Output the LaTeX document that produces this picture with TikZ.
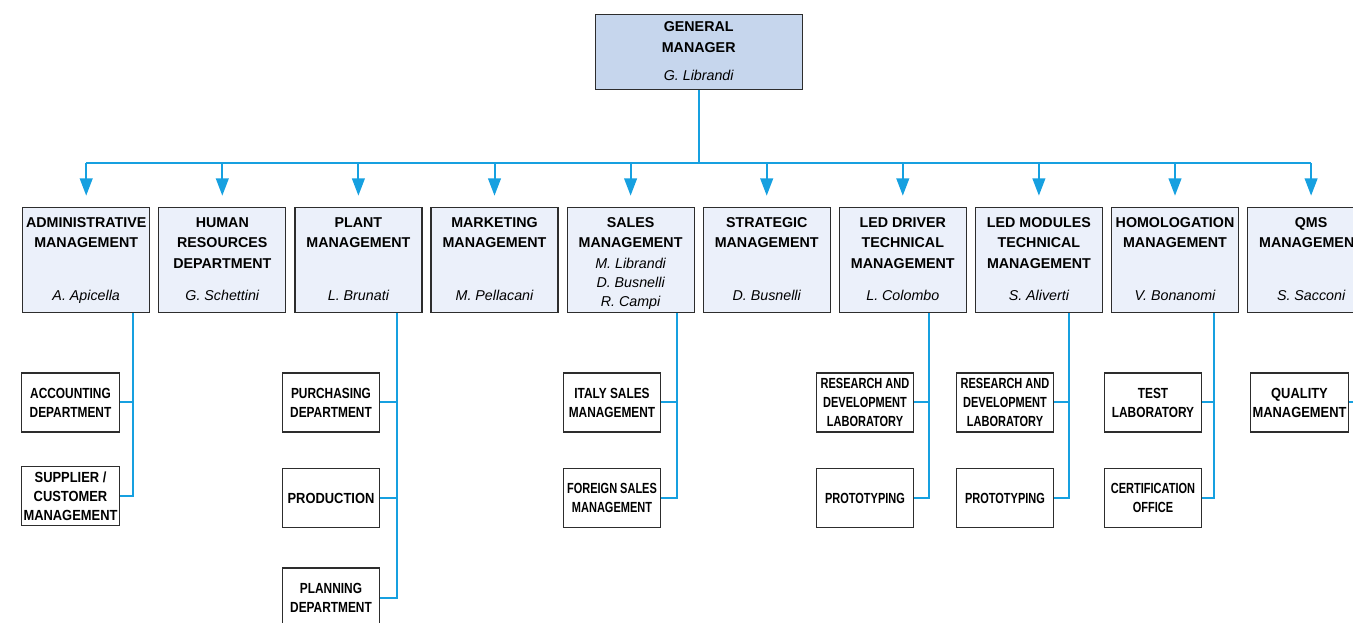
\documentclass[tikz,border=0pt]{standalone}
\usepackage{fontspec}
\setmainfont{Liberation Sans}
\newfontfamily\nfa[FakeStretch=0.88]{Liberation Sans}
\newfontfamily\nfb[FakeStretch=0.81]{Liberation Sans}
\newfontfamily\nfc[FakeStretch=0.75]{Liberation Sans}
\usetikzlibrary{arrows.meta}
\definecolor{conncol}{RGB}{22,160,224}
\definecolor{topfill}{RGB}{235,240,250}
\definecolor{gmfill}{RGB}{198,214,237}
\definecolor{boxline}{RGB}{45,45,45}
\tikzset{
  box/.style={draw=boxline, line width=0.9pt, inner sep=0pt},
  topbox/.style={box, fill=topfill, minimum width=95.25pt, minimum height=78.75pt},
  gmbox/.style={box, fill=gmfill, minimum width=155.25pt, minimum height=56.25pt},
  subbox/.style={box, fill=white, minimum width=73.1pt, minimum height=44.25pt, align=center, font=#1\fontsize{11}{14.25}\selectfont\bfseries},
  ttl/.style={anchor=north, inner sep=0pt, align=center, font=\fontsize{10.7}{15.3}\selectfont\bfseries},
  nm/.style={inner sep=0pt, align=center, font=\fontsize{10.7}{14.25}\selectfont\itshape},
  conn/.style={draw=conncol, line width=1.5pt},
  arr/.style={conn, -{Triangle[length=13pt,width=9.5pt]}, shorten >=8.25pt}
}
\begin{document}
\begin{tikzpicture}[x=0.75pt,y=-0.75pt]
\useasboundingbox (0,0) rectangle (1353,623);
\clip (0,0) rectangle (1353,623);

% General manager
\node[gmbox] (gm) at (698.7,51.8) {};
\node[ttl] (gmT) at (698.7,21.7) {GENERAL\\MANAGER};
\node[nm, anchor=base] (gmN) at (698.7,81) {G. Librandi};

% top row
\node[topbox] (adm) at (86.2,259.8) {};
\node[topbox] (hr) at (222.3,259.8) {};
\node[topbox] (plant) at (358.4,259.8) {};
\node[topbox] (mkt) at (494.5,259.8) {};
\node[topbox] (sales) at (630.6,259.8) {};
\node[topbox] (strat) at (766.7,259.8) {};
\node[topbox] (ledd) at (902.8,259.8) {};
\node[topbox] (ledm) at (1038.9,259.8) {};
\node[topbox] (hom) at (1175,259.8) {};
\node[topbox] (qms) at (1311.1,259.8) {};

\node[ttl] (admT) at (86.2,217.3) {ADMINISTRATIVE\\MANAGEMENT};
\node[ttl] (hrT) at (222.3,217.3) {HUMAN\\RESOURCES\\DEPARTMENT};
\node[ttl] (plantT) at (358.4,217.3) {PLANT\\MANAGEMENT};
\node[ttl] (mktT) at (494.5,217.3) {MARKETING\\MANAGEMENT};
\node[ttl] (salesT) at (630.6,217.3) {SALES\\MANAGEMENT};
\node[ttl] (stratT) at (766.7,217.3) {STRATEGIC\\MANAGEMENT};
\node[ttl] (leddT) at (902.8,217.3) {LED DRIVER\\TECHNICAL\\MANAGEMENT};
\node[ttl] (ledmT) at (1038.9,217.3) {LED MODULES\\TECHNICAL\\MANAGEMENT};
\node[ttl] (homT) at (1175,217.3) {HOMOLOGATION\\MANAGEMENT};
\node[ttl] (qmsT) at (1311.1,217.3) {QMS\\MANAGEMENT};

\node[nm, anchor=base] (admN) at (86.2,301) {A. Apicella};
\node[nm, anchor=base] (hrN) at (222.3,301) {G. Schettini};
\node[nm, anchor=base] (plantN) at (358.4,301) {L. Brunati};
\node[nm, anchor=base] (mktN) at (494.5,301) {M. Pellacani};
\node[nm, anchor=north] (salesN) at (630.6,258) {M. Librandi\\D. Busnelli\\R. Campi};
\node[nm, anchor=base] (stratN) at (766.7,301) {D. Busnelli};
\node[nm, anchor=base] (leddN) at (902.8,301) {L. Colombo};
\node[nm, anchor=base] (ledmN) at (1038.9,301) {S. Aliverti};
\node[nm, anchor=base] (homN) at (1175,301) {V. Bonanomi};
\node[nm, anchor=base] (qmsN) at (1311.1,301) {S. Sacconi};

% sub boxes
\node[subbox=\nfb] (acc) at (70.5,402.5) {ACCOUNTING\\DEPARTMENT};
\node[subbox=\nfa] (sup) at (70.5,496) {SUPPLIER /\\CUSTOMER\\MANAGEMENT};
\node[subbox=\nfb] (pur) at (331,402.5) {PURCHASING\\DEPARTMENT};
\node[subbox=\nfa] (prod) at (331,498) {PRODUCTION};
\node[subbox=\nfb] (plan) at (331,597.5) {PLANNING\\DEPARTMENT};
\node[subbox=\nfb] (ita) at (612,402.5) {ITALY SALES\\MANAGEMENT};
\node[subbox=\nfc] (for) at (612,498) {FOREIGN SALES\\MANAGEMENT};
\node[subbox=\nfc] (rda) at (865,402.5) {RESEARCH AND\\DEVELOPMENT\\LABORATORY};
\node[subbox=\nfc] (pra) at (865,498) {PROTOTYPING};
\node[subbox=\nfc] (rdb) at (1005,402.5) {RESEARCH AND\\DEVELOPMENT\\LABORATORY};
\node[subbox=\nfc] (prb) at (1005,498) {PROTOTYPING};
\node[subbox=\nfb] (tst) at (1153,402.5) {TEST\\LABORATORY};
\node[subbox=\nfc] (cer) at (1153,498) {CERTIFICATION\\OFFICE};
\node[subbox=\nfa] (qua) at (1299.5,402.5) {QUALITY\\MANAGEMENT};

% bus
\coordinate (busY) at (0,163.3);
\draw[conn] (gm.south) -- (gm.south |- busY);
\draw[conn] (adm.north |- busY) -- (qms.north |- busY);
\foreach \n in {adm,hr,plant,mkt,sales,strat,ledd,ledm,hom,qms}
  \draw[arr] (\n.north |- busY) -- (\n.north);

% drop lines
\coordinate (admX) at (133,0);
\coordinate (plantX) at (397,0);
\coordinate (salesX) at (677,0);
\coordinate (leddX) at (929,0);
\coordinate (ledmX) at (1069,0);
\coordinate (homX) at (1214,0);
\coordinate (qmsX) at (1364,0);

\draw[conn] (adm.south -| admX) |- (sup.east);
\draw[conn] (acc.east) -- (acc.east -| admX);
\draw[conn] (plant.south -| plantX) |- (plan.east);
\draw[conn] (pur.east) -- (pur.east -| plantX);
\draw[conn] (prod.east) -- (prod.east -| plantX);
\draw[conn] (sales.south -| salesX) |- (for.east);
\draw[conn] (ita.east) -- (ita.east -| salesX);
\draw[conn] (ledd.south -| leddX) |- (pra.east);
\draw[conn] (rda.east) -- (rda.east -| leddX);
\draw[conn] (ledm.south -| ledmX) |- (prb.east);
\draw[conn] (rdb.east) -- (rdb.east -| ledmX);
\draw[conn] (hom.south -| homX) |- (cer.east);
\draw[conn] (tst.east) -- (tst.east -| homX);
\draw[conn] (qms.south -| qmsX) |- (qua.east);
\end{tikzpicture}
\end{document}
